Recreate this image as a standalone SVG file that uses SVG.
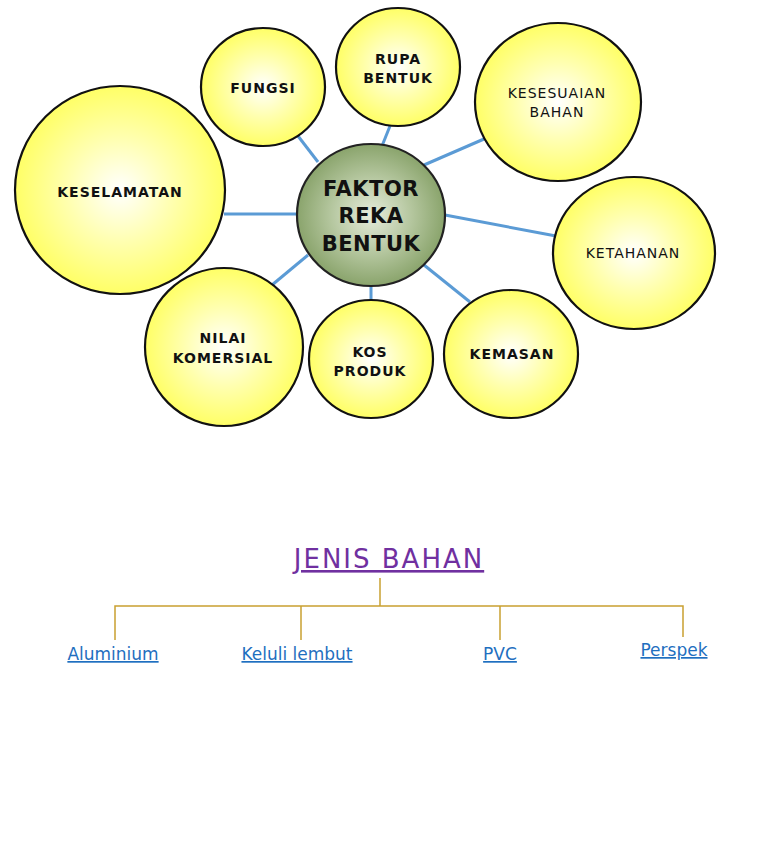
<svg xmlns="http://www.w3.org/2000/svg" width="768" height="866" viewBox="0 0 768 866">
<defs>
<radialGradient id="yel" cx="50%" cy="50%" r="50%">
<stop offset="0" stop-color="#ffffff"/>
<stop offset="0.5" stop-color="#ffffb0"/>
<stop offset="1" stop-color="#ffff66"/>
</radialGradient>
<radialGradient id="grn" cx="50%" cy="50%" r="50%">
<stop offset="0" stop-color="#e6ecdc"/>
<stop offset="0.55" stop-color="#b4c69e"/>
<stop offset="1" stop-color="#8aa46c"/>
</radialGradient>
<style>
.n{fill:url(#yel);stroke:#111;stroke-width:2.2}
.c{fill:url(#grn);stroke:#222;stroke-width:2.2}
.t{font-family:"Comic Sans MS","DejaVu Sans",sans-serif;font-size:14px;font-weight:bold;fill:#111;text-anchor:middle;letter-spacing:1px}
.tn{font-weight:normal}
.tc{font-size:21px;letter-spacing:0.5px}
.e{stroke:#5b9bd5;stroke-width:3;fill:none}
.tr{stroke:#c9a030;stroke-width:1.5;fill:none}
.lk{font-family:"Comic Sans MS","DejaVu Sans",sans-serif;font-size:17px;fill:#1f6fc0;text-anchor:middle;text-decoration:underline}
.hd{font-family:"Comic Sans MS","DejaVu Sans",sans-serif;font-size:26px;fill:#7030a0;text-anchor:middle;text-decoration:underline;letter-spacing:2px}
</style>
</defs>
<rect width="768" height="866" fill="#fff"/>
<g id="connectors">
<line class="e" x1="298" y1="136" x2="318" y2="162"/>
<line class="e" x1="390" y1="126" x2="382" y2="146"/>
<line class="e" x1="484" y1="139" x2="424" y2="165"/>
<line class="e" x1="224" y1="214" x2="297" y2="214"/>
<line class="e" x1="445" y1="215" x2="556" y2="236"/>
<line class="e" x1="272" y1="285" x2="308" y2="255"/>
<line class="e" x1="371" y1="286" x2="371" y2="300"/>
<line class="e" x1="424" y1="265" x2="470" y2="302"/>
</g>
<g id="fungsi"><ellipse class="n" cx="263" cy="87" rx="62" ry="59"/><text class="t" x="263" y="93">FUNGSI</text></g>
<g id="rupa"><ellipse class="n" cx="398" cy="67" rx="62" ry="59"/><text class="t" x="398" y="64">RUPA</text><text class="t" x="398" y="83">BENTUK</text></g>
<g id="kesesuaian"><ellipse class="n" cx="558" cy="102" rx="83" ry="79"/><text class="t tn" x="557" y="98">KESESUAIAN</text><text class="t tn" x="557" y="117">BAHAN</text></g>
<g id="keselamatan"><ellipse class="n" cx="120" cy="190" rx="105" ry="104"/><text class="t" x="120" y="197">KESELAMATAN</text></g>
<g id="ketahanan"><ellipse class="n" cx="634" cy="253" rx="81" ry="76"/><text class="t tn" x="633" y="258">KETAHANAN</text></g>
<g id="nilai"><ellipse class="n" cx="224" cy="347" rx="79" ry="79"/><text class="t" x="223" y="343">NILAI</text><text class="t" x="223" y="363">KOMERSIAL</text></g>
<g id="kos"><ellipse class="n" cx="371" cy="359" rx="62" ry="59"/><text class="t" x="370" y="357">KOS</text><text class="t" x="370" y="376">PRODUK</text></g>
<g id="kemasan"><ellipse class="n" cx="511" cy="354" rx="67" ry="64"/><text class="t" x="512" y="359">KEMASAN</text></g>
<g id="faktor"><ellipse class="c" cx="371" cy="215" rx="74" ry="71"/><text class="t tc" x="371" y="196">FAKTOR</text><text class="t tc" x="371" y="223">REKA</text><text class="t tc" x="371" y="251">BENTUK</text></g>
<g id="tree">
<polyline class="tr" points="380,578 380,606"/>
<polyline class="tr" points="115,640 115,606 683,606 683,637"/>
<line class="tr" x1="301" y1="606" x2="301" y2="640"/>
<line class="tr" x1="500" y1="606" x2="500" y2="640"/>
</g>
<g id="jenis"><text class="hd" x="389" y="568">JENIS BAHAN</text></g>
<g id="aluminium"><text class="lk" x="113" y="660">Aluminium</text></g>
<g id="keluli"><text class="lk" x="297" y="660">Keluli lembut</text></g>
<g id="pvc"><text class="lk" x="500" y="660">PVC</text></g>
<g id="perspek"><text class="lk" x="674" y="656">Perspek</text></g>
</svg>
